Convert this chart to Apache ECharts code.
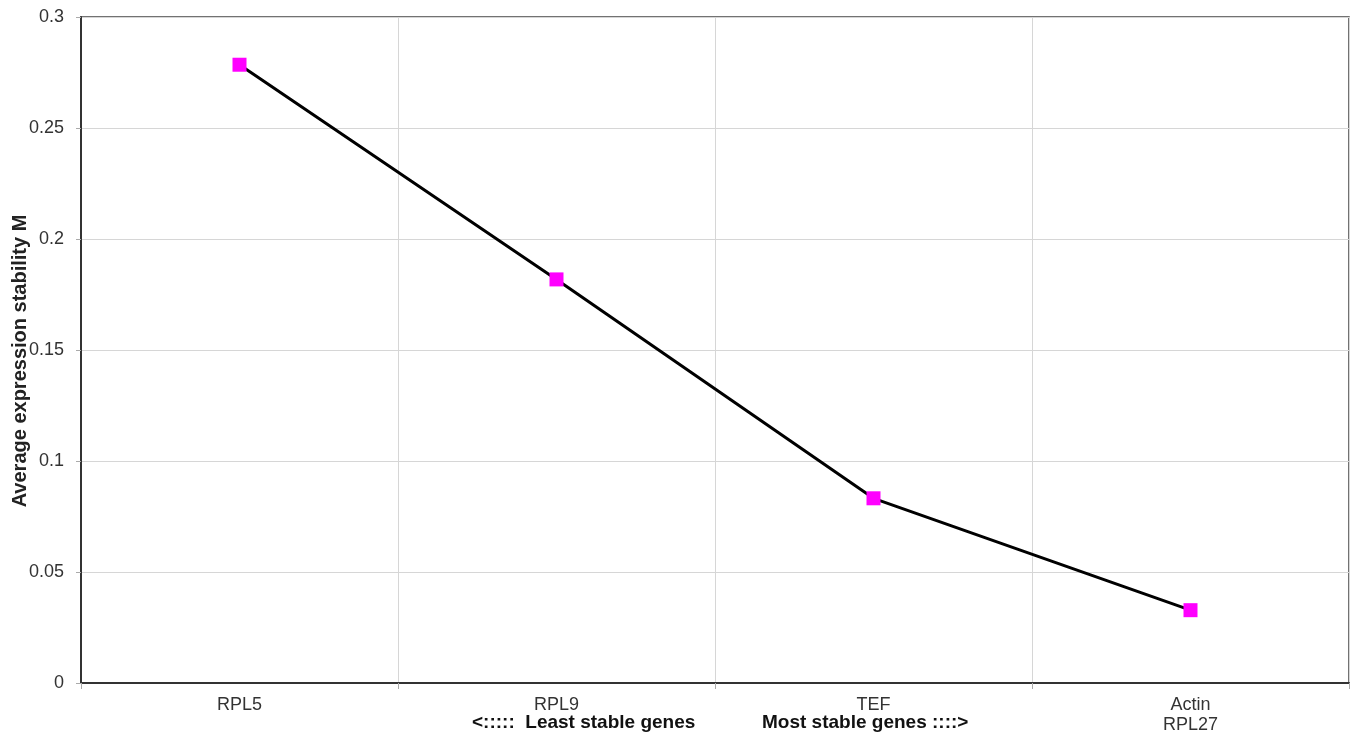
<!DOCTYPE html>
<html><head><meta charset="utf-8">
<script src="https://cdn.jsdelivr.net/npm/echarts@6/dist/echarts.min.js"></script>
<style>html,body{margin:0;padding:0;background:#fff}#c{width:1354px;height:735px}</style>
</head><body><div id="c"></div>
<script>
const categories = ['RPL5', 'RPL9', 'TEF', 'Actin\nRPL27'];
const values = [0.2785, 0.1818, 0.0832, 0.0328];
const yTicks = [0, 0.05, 0.1, 0.15, 0.2, 0.25, 0.3];
const yTitle = 'Average expression stability M';
const noteLeft = '<:::::  Least stable genes';
const noteRight = 'Most stable genes ::::>';

const chart = echarts.init(document.getElementById('c'), null, {renderer: 'canvas'});
const font = 'Liberation Sans, Arial, sans-serif';
chart.setOption({
  animation: false,
  grid: {left: 81, right: 5, top: 17, bottom: 52, show: true, borderColor: '#444', borderWidth: 1.5,
         containLabel: false, outerBoundsMode: 'none'},
  xAxis: {
    type: 'category', data: categories, boundaryGap: true,
    axisLine: {lineStyle: {color: '#333', width: 2}},
    axisTick: {show: true, length: 6, lineStyle: {color: '#aaa'}},
    axisLabel: {color: '#333', fontFamily: font, fontSize: 18, margin: 12, lineHeight: 20},
    splitLine: {show: true, lineStyle: {color: '#d6d6d6', width: 1}}
  },
  yAxis: {
    type: 'value', min: 0, max: 0.3, interval: 0.05,
    axisLine: {show: true, lineStyle: {color: '#333', width: 2}},
    axisTick: {show: true, length: 5, lineStyle: {color: '#aaa'}},
    axisLabel: {color: '#333', fontFamily: font, fontSize: 18, margin: 17,
      formatter: v => String(+v.toFixed(2))},
    splitLine: {show: true, lineStyle: {color: '#d6d6d6', width: 1}}
  },
  series: [{
    type: 'line', data: values,
    symbol: 'rect', symbolSize: 14,
    itemStyle: {color: '#ff00ff'},
    lineStyle: {color: '#000', width: 3}
  }],
  graphic: [
    {type: 'text', x: 20, y: 361, rotation: Math.PI / 2,
     style: {text: yTitle, font: 'bold 20px ' + font, fill: '#222', align: 'center', verticalAlign: 'middle'}},
    {type: 'text', left: 472, top: 713, style: {text: noteLeft, font: 'bold 19px ' + font, fill: '#111'}},
    {type: 'text', left: 762, top: 713, style: {text: noteRight, font: 'bold 19px ' + font, fill: '#111'}}
  ]
});
</script></body></html>
